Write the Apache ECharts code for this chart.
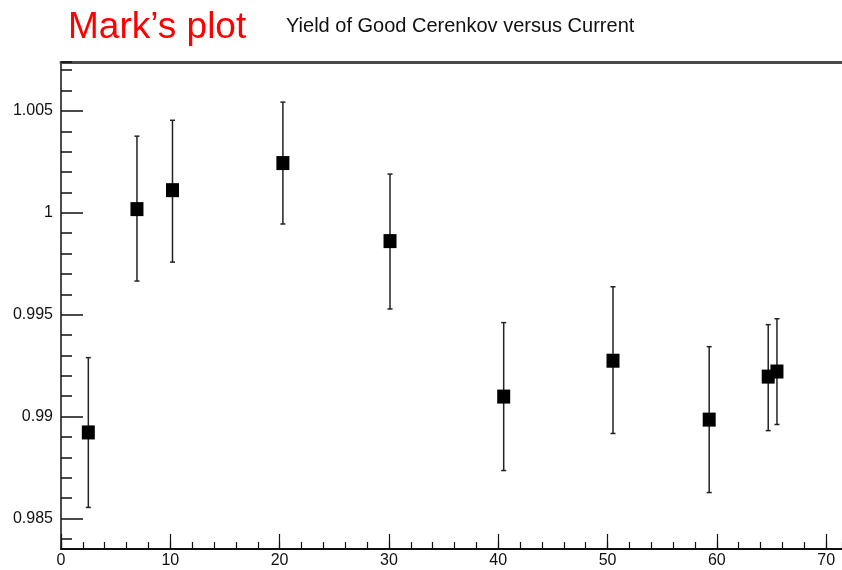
<!DOCTYPE html>
<html>
<head>
<meta charset="utf-8">
<script src="https://cdn.jsdelivr.net/npm/echarts@6/dist/echarts.min.js"></script>
<style>
  html, body { margin: 0; padding: 0; background: #fff; }
  #chart { width: 842px; height: 570px; }
</style>
</head>
<body>
<div id="chart"></div>
<script>
// current (x), yield (y) and error bar ends
const current = [2.5, 6.95, 10.2, 20.3, 30.1, 40.5, 50.5, 59.3, 64.7, 65.5];
const yieldVal = [0.98922, 1.00018, 1.00111, 1.00244, 0.99861, 0.99098, 0.99274, 0.98985, 0.99196, 0.99221];
const errHigh = [0.99289, 1.00376, 1.00454, 1.00543, 1.0019, 0.99461, 0.99637, 0.99343, 0.99451, 0.9948];
const errLow = [0.98554, 0.99665, 0.99758, 0.99945, 0.99528, 0.98735, 0.98917, 0.98627, 0.98931, 0.98961];

const xMin = 0, xMax = 71.45;
const yMin = 0.9835, yMax = 1.0074;
const sans = '"Liberation Sans", Arial, sans-serif';

const points = current.map((x, i) => [x, yieldVal[i]]);
const bars = current.map((x, i) => [x, errLow[i], errHigh[i]]);

const chart = echarts.init(document.getElementById('chart'));

chart.setOption({
  animation: false,
  backgroundColor: '#fff',
  title: [
    {
      text: 'Mark\u2019s plot',
      left: 63, top: 4,
      textStyle: { color: '#ff0000', fontSize: 37, fontWeight: 'normal', fontFamily: sans }
    },
    {
      text: 'Yield of Good Cerenkov versus Current',
      left: 281, top: 11,
      textStyle: { color: '#111', fontSize: 20, fontWeight: 'normal', fontFamily: sans }
    }
  ],
  grid: { left: 61, right: 0, top: 62, bottom: 21, containLabel: false },
  xAxis: [
    {
      type: 'value', min: xMin, max: xMax, interval: 10, position: 'bottom',
      axisLine: { show: true, lineStyle: { color: '#111', width: 2 } },
      axisTick: { show: true, inside: true, length: 15, lineStyle: { color: '#111', width: 1.2 } },
      axisLabel: { show: true, margin: 4, showMaxLabel: false, color: '#111', fontSize: 16, fontFamily: sans },
      splitLine: { show: false }
    },
    {
      type: 'value', min: xMin, max: xMax, interval: 2, position: 'bottom',
      axisLine: { show: false },
      axisTick: { show: true, inside: true, length: 7, lineStyle: { color: '#111', width: 1.2 } },
      axisLabel: { show: false },
      splitLine: { show: false }
    },
    {
      type: 'value', min: xMin, max: xMax, position: 'top',
      axisLine: { show: true, lineStyle: { color: '#4a4a4a', width: 3 } },
      axisTick: { show: false },
      axisLabel: { show: false },
      splitLine: { show: false }
    }
  ],
  yAxis: [
    {
      type: 'value', min: yMin, max: yMax, splitNumber: 5, position: 'left',
      axisLine: { show: true, lineStyle: { color: '#111', width: 1.5 } },
      axisTick: { show: true, inside: true, length: 22, lineStyle: { color: '#111', width: 1.5 } },
      axisLabel: {
        show: true, margin: 8, showMinLabel: false, showMaxLabel: false,
        color: '#111', fontSize: 16, fontFamily: sans,
        formatter: (v) => String(parseFloat(v.toFixed(4)))
      },
      splitLine: { show: false }
    },
    {
      type: 'value', min: yMin, max: yMax, splitNumber: 24, position: 'left',
      axisLine: { show: false },
      axisTick: { show: true, inside: true, length: 11, lineStyle: { color: '#111', width: 1.5 } },
      axisLabel: { show: false },
      splitLine: { show: false }
    }
  ],
  series: [
    {
      type: 'custom',
      xAxisIndex: 0, yAxisIndex: 0,
      data: bars,
      renderItem: (params, api) => {
        const top = api.coord([api.value(0), api.value(2)]);
        const bot = api.coord([api.value(0), api.value(1)]);
        const cap = 2.5;
        const style = { stroke: '#222', lineWidth: 1.5 };
        return {
          type: 'group',
          children: [
            { type: 'line', shape: { x1: top[0], y1: top[1], x2: bot[0], y2: bot[1] }, style },
            { type: 'line', shape: { x1: top[0] - cap, y1: top[1], x2: top[0] + cap, y2: top[1] }, style },
            { type: 'line', shape: { x1: bot[0] - cap, y1: bot[1], x2: bot[0] + cap, y2: bot[1] }, style }
          ]
        };
      },
      z: 2
    },
    {
      type: 'scatter',
      xAxisIndex: 0, yAxisIndex: 0,
      data: points,
      symbol: 'rect',
      symbolSize: [13, 14],
      itemStyle: { color: '#000', opacity: 1 },
      z: 3
    }
  ]
});
</script>
</body>
</html>
